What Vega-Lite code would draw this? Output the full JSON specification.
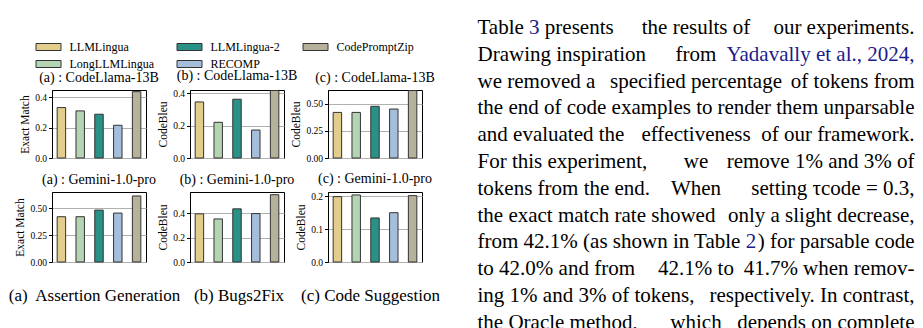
{
  "$schema": "https://vega.github.io/schema/vega-lite/v6.json",
  "padding": {"left": 7, "top": 17, "right": 0, "bottom": 0},
  "background": "white",
  "datasets": {
    "bars": [
      {"panel": "A1", "method": "LLMLingua", "value": 0.333},
      {"panel": "A1", "method": "LongLLMLingua", "value": 0.311},
      {"panel": "A1", "method": "LLMLingua-2", "value": 0.289},
      {"panel": "A1", "method": "RECOMP", "value": 0.216},
      {"panel": "A1", "method": "CodePromptZip", "value": 0.438},
      {"panel": "B1", "method": "LLMLingua", "value": 0.347},
      {"panel": "B1", "method": "LongLLMLingua", "value": 0.221},
      {"panel": "B1", "method": "LLMLingua-2", "value": 0.364},
      {"panel": "B1", "method": "RECOMP", "value": 0.173},
      {"panel": "B1", "method": "CodePromptZip", "value": 0.418},
      {"panel": "C1", "method": "LLMLingua", "value": 0.419},
      {"panel": "C1", "method": "LongLLMLingua", "value": 0.419},
      {"panel": "C1", "method": "LLMLingua-2", "value": 0.475},
      {"panel": "C1", "method": "RECOMP", "value": 0.45},
      {"panel": "C1", "method": "CodePromptZip", "value": 0.62},
      {"panel": "A2", "method": "LLMLingua", "value": 0.423},
      {"panel": "A2", "method": "LongLLMLingua", "value": 0.423},
      {"panel": "A2", "method": "LLMLingua-2", "value": 0.485},
      {"panel": "A2", "method": "RECOMP", "value": 0.457},
      {"panel": "A2", "method": "CodePromptZip", "value": 0.617},
      {"panel": "B2", "method": "LLMLingua", "value": 0.395},
      {"panel": "B2", "method": "LongLLMLingua", "value": 0.353},
      {"panel": "B2", "method": "LLMLingua-2", "value": 0.436},
      {"panel": "B2", "method": "RECOMP", "value": 0.397},
      {"panel": "B2", "method": "CodePromptZip", "value": 0.552},
      {"panel": "C2", "method": "LLMLingua", "value": 0.199},
      {"panel": "C2", "method": "LongLLMLingua", "value": 0.204},
      {"panel": "C2", "method": "LLMLingua-2", "value": 0.134},
      {"panel": "C2", "method": "RECOMP", "value": 0.15},
      {"panel": "C2", "method": "CodePromptZip", "value": 0.202}
    ],
    "para": [
      {"line": 0, "side": 0, "tone": "base", "text": "Table 3 presents"},
      {"line": 0, "side": 0.5, "tone": "base", "text": "the results of"},
      {"line": 0, "side": 1, "tone": "base", "text": "our experiments."},
      {"line": 1, "side": 0, "tone": "base", "text": "Drawing inspiration"},
      {"line": 1, "side": 0.5, "tone": "base", "text": "from"},
      {"line": 1, "side": 1, "tone": "link", "text": "Yadavally et al., 2024,"},
      {"line": 2, "side": 0, "tone": "base", "text": "we removed a"},
      {"line": 2, "side": 0.5, "tone": "base", "text": "specified percentage"},
      {"line": 2, "side": 1, "tone": "base", "text": "of tokens from"},
      {"line": 3, "side": 0, "tone": "base", "text": "the end of code examples to"},
      {"line": 3, "side": 1, "tone": "base", "text": "render them unparsable"},
      {"line": 4, "side": 0, "tone": "base", "text": "and evaluated the"},
      {"line": 4, "side": 0.5, "tone": "base", "text": "effectiveness"},
      {"line": 4, "side": 1, "tone": "base", "text": "of our framework."},
      {"line": 5, "side": 0, "tone": "base", "text": "For this experiment,"},
      {"line": 5, "side": 0.5, "tone": "base", "text": "we"},
      {"line": 5, "side": 1, "tone": "base", "text": "remove 1% and 3% of"},
      {"line": 6, "side": 0, "tone": "base", "text": "tokens from the end."},
      {"line": 6, "side": 0.5, "tone": "base", "text": "When"},
      {"line": 6, "side": 1, "tone": "base", "text": "setting τcode = 0.3,"},
      {"line": 7, "side": 0, "tone": "base", "text": "the exact match rate showed"},
      {"line": 7, "side": 1, "tone": "base", "text": "only a slight decrease,"},
      {"line": 8, "side": 1, "tone": "base", "text": ") for parsable code"},
      {"line": 9, "side": 0, "tone": "base", "text": "to 42.0% and from"},
      {"line": 9, "side": 0.5, "tone": "base", "text": "42.1% to"},
      {"line": 9, "side": 1, "tone": "base", "text": "41.7% when remov-"},
      {"line": 10, "side": 0, "tone": "base", "text": "ing 1% and 3% of tokens,"},
      {"line": 10, "side": 1, "tone": "base", "text": "respectively. In contrast,"},
      {"line": 11, "side": 0, "tone": "base", "text": "the Oracle method,"},
      {"line": 11, "side": 0.5, "tone": "base", "text": "which"},
      {"line": 11, "side": 1, "tone": "base", "text": "depends on complete"},
      {"line": 0, "side": 0, "tone": "blue", "text": "Table 3"},
      {"line": 8, "side": 0, "tone": "blue", "text": "from 42.1% (as shown in Table 2"},
      {"line": 0, "side": 0, "tone": "mask", "text": "Table"},
      {"line": 8, "side": 0, "tone": "mask", "text": "from 42.1% (as shown in Table"}
    ]
  },
  "config": {
    "font": "Liberation Serif",
    "view": {"stroke": "black", "strokeWidth": 1},
    "title": {"font": "Liberation Serif", "fontSize": 14, "fontWeight": "normal", "color": "black", "offset": 5},
    "axis": {
      "labelFont": "Liberation Serif", "titleFont": "Liberation Serif",
      "labelColor": "black", "titleColor": "black", "tickColor": "black", "domainColor": "black",
      "labelFontSize": 9.5, "titleFontSize": 11.5, "titleFontWeight": "normal",
      "tickSize": 3.5, "labelPadding": 2, "titlePadding": 4, "gridColor": "#b0b0b0", "gridWidth": 1
    },
    "legend": {
      "orient": "none", "legendX": -9.5, "legendY": -49, "columns": 3, "direction": "horizontal",
      "symbolType": "M-2.5,-0.7H2.5V0.7H-2.5Z", "symbolSize": 100, "symbolStrokeColor": "#333333", "symbolStrokeWidth": 1,
      "symbolOpacity": 1,
      "labelFont": "Liberation Serif", "labelFontSize": 12, "labelColor": "black", "labelOffset": 15,
      "columnPadding": 20, "rowPadding": 5, "padding": 0
    }
  },
  "columns": 4,
  "align": "each",
  "bounds": "flush",
  "spacing": {"row": 34, "column": 44},
  "concat": [
    {
      "width": 94, "height": 68,
      "title": "(a) : CodeLlama-13B",
      "data": {"name": "bars"},
      "transform": [{"filter": "datum.panel == 'A1'"}],
      "mark": {"type": "bar", "stroke": "#333333", "strokeWidth": 1},
      "encoding": {
        "x": {"field": "method", "type": "nominal", "sort": ["LLMLingua", "LongLLMLingua", "LLMLingua-2", "RECOMP", "CodePromptZip"], "scale": {"paddingInner": 0.55, "paddingOuter": 0.275}, "axis": null},
        "y": {"field": "value", "type": "quantitative", "scale": {"domain": [0, 0.449], "nice": false}, "axis": {"title": "Exact Match", "values": [0, 0.2, 0.4], "format": ".1f", "grid": true}},
        "color": {"field": "method", "type": "nominal", "scale": {"domain": ["LLMLingua", "LLMLingua-2", "CodePromptZip", "LongLLMLingua", "RECOMP"], "range": ["#e3cd8c", "#2a9187", "#b6b19a", "#b4d4b4", "#a6bedc"]}, "legend": {"title": null}}
      }
    },
    {
      "width": 94, "height": 68,
      "title": "(b) : CodeLlama-13B",
      "data": {"name": "bars"},
      "transform": [{"filter": "datum.panel == 'B1'"}],
      "mark": {"type": "bar", "stroke": "#333333", "strokeWidth": 1},
      "encoding": {
        "x": {"field": "method", "type": "nominal", "sort": ["LLMLingua", "LongLLMLingua", "LLMLingua-2", "RECOMP", "CodePromptZip"], "scale": {"paddingInner": 0.55, "paddingOuter": 0.275}, "axis": null},
        "y": {"field": "value", "type": "quantitative", "scale": {"domain": [0, 0.421], "nice": false}, "axis": {"title": "CodeBleu", "values": [0, 0.2, 0.4], "format": ".1f", "grid": true}},
        "color": {"field": "method", "type": "nominal", "scale": {"domain": ["LLMLingua", "LLMLingua-2", "CodePromptZip", "LongLLMLingua", "RECOMP"], "range": ["#e3cd8c", "#2a9187", "#b6b19a", "#b4d4b4", "#a6bedc"]}, "legend": {"title": null}}
      }
    },
    {
      "width": 94, "height": 68,
      "title": "(c) : CodeLlama-13B",
      "data": {"name": "bars"},
      "transform": [{"filter": "datum.panel == 'C1'"}],
      "mark": {"type": "bar", "stroke": "#333333", "strokeWidth": 1},
      "encoding": {
        "x": {"field": "method", "type": "nominal", "sort": ["LLMLingua", "LongLLMLingua", "LLMLingua-2", "RECOMP", "CodePromptZip"], "scale": {"paddingInner": 0.55, "paddingOuter": 0.275}, "axis": null},
        "y": {"field": "value", "type": "quantitative", "scale": {"domain": [0, 0.625], "nice": false}, "axis": {"title": "CodeBleu", "values": [0, 0.25, 0.5], "format": ".2f", "grid": true}},
        "color": {"field": "method", "type": "nominal", "scale": {"domain": ["LLMLingua", "LLMLingua-2", "CodePromptZip", "LongLLMLingua", "RECOMP"], "range": ["#e3cd8c", "#2a9187", "#b6b19a", "#b4d4b4", "#a6bedc"]}, "legend": {"title": null}}
      }
    },
    {
      "width": 448.5, "height": 68,
      "view": {"stroke": null},
      "data": {"name": "para"},
      "encoding": {
        "x": {"field": "side", "type": "quantitative", "scale": {"domain": [-0.026316, 1], "nice": false, "zero": false}, "axis": null},
        "y": {"field": "line", "type": "quantitative", "scale": {"domain": [2.313, 4.85], "nice": false, "zero": false, "reverse": true}, "axis": null},
        "text": {"field": "text"}
      },
      "layer": [
        {"transform": [{"filter": "datum.side == 0 && datum.tone == 'base'"}], "mark": {"type": "text", "align": "left", "baseline": "middle", "font": "Liberation Serif", "fontSize": 21, "color": "black"}},
        {"transform": [{"filter": "datum.side == 0.5 && datum.tone == 'base'"}], "mark": {"type": "text", "align": "center", "baseline": "middle", "font": "Liberation Serif", "fontSize": 21, "color": "black"}},
        {"transform": [{"filter": "datum.side == 1 && datum.tone == 'base'"}], "mark": {"type": "text", "align": "right", "baseline": "middle", "font": "Liberation Serif", "fontSize": 21, "color": "black"}},
        {"transform": [{"filter": "datum.side == 1 && datum.tone == 'link'"}], "mark": {"type": "text", "align": "right", "baseline": "middle", "font": "Liberation Serif", "fontSize": 21, "color": "#1c1c8a"}},
        {"transform": [{"filter": "datum.tone == 'blue'"}], "mark": {"type": "text", "align": "left", "baseline": "middle", "font": "Liberation Serif", "fontSize": 21, "fill": "white", "stroke": "white", "strokeWidth": 1.2}},
        {"transform": [{"filter": "datum.tone == 'blue'"}], "mark": {"type": "text", "align": "left", "baseline": "middle", "font": "Liberation Serif", "fontSize": 21, "color": "#1c1c8a"}},
        {"transform": [{"filter": "datum.tone == 'mask'"}], "mark": {"type": "text", "align": "left", "baseline": "middle", "font": "Liberation Serif", "fontSize": 21, "fill": "white", "stroke": "white", "strokeWidth": 1.2}},
        {"transform": [{"filter": "datum.tone == 'mask'"}], "mark": {"type": "text", "align": "left", "baseline": "middle", "font": "Liberation Serif", "fontSize": 21, "color": "black"}}
      ]
    },
    {
      "width": 94, "height": 70,
      "title": "(a) : Gemini-1.0-pro",
      "data": {"name": "bars"},
      "transform": [{"filter": "datum.panel == 'A2'"}],
      "mark": {"type": "bar", "stroke": "#333333", "strokeWidth": 1},
      "encoding": {
        "x": {"field": "method", "type": "nominal", "sort": ["LLMLingua", "LongLLMLingua", "LLMLingua-2", "RECOMP", "CodePromptZip"], "scale": {"paddingInner": 0.55, "paddingOuter": 0.275}, "axis": {"title": "(a)\u00a0 Assertion Generation", "labels": false, "ticks": false, "domain": false, "titleFontSize": 17, "titlePadding": 25, "titleX": 42}},
        "y": {"field": "value", "type": "quantitative", "scale": {"domain": [0, 0.654], "nice": false}, "axis": {"title": "Exact Match", "values": [0, 0.25, 0.5], "format": ".2f", "grid": true}},
        "color": {"field": "method", "type": "nominal", "scale": {"domain": ["LLMLingua", "LLMLingua-2", "CodePromptZip", "LongLLMLingua", "RECOMP"], "range": ["#e3cd8c", "#2a9187", "#b6b19a", "#b4d4b4", "#a6bedc"]}, "legend": {"title": null}}
      }
    },
    {
      "width": 94, "height": 70,
      "title": "(b) : Gemini-1.0-pro",
      "data": {"name": "bars"},
      "transform": [{"filter": "datum.panel == 'B2'"}],
      "mark": {"type": "bar", "stroke": "#333333", "strokeWidth": 1},
      "encoding": {
        "x": {"field": "method", "type": "nominal", "sort": ["LLMLingua", "LongLLMLingua", "LLMLingua-2", "RECOMP", "CodePromptZip"], "scale": {"paddingInner": 0.55, "paddingOuter": 0.275}, "axis": {"title": "(b) Bugs2Fix", "labels": false, "ticks": false, "domain": false, "titleFontSize": 17, "titlePadding": 25, "titleX": 48.5}},
        "y": {"field": "value", "type": "quantitative", "scale": {"domain": [0, 0.574], "nice": false}, "axis": {"title": "CodeBleu", "values": [0, 0.2, 0.4], "format": ".1f", "grid": true}},
        "color": {"field": "method", "type": "nominal", "scale": {"domain": ["LLMLingua", "LLMLingua-2", "CodePromptZip", "LongLLMLingua", "RECOMP"], "range": ["#e3cd8c", "#2a9187", "#b6b19a", "#b4d4b4", "#a6bedc"]}, "legend": {"title": null}}
      }
    },
    {
      "width": 94, "height": 70,
      "title": "(c) : Gemini-1.0-pro",
      "data": {"name": "bars"},
      "transform": [{"filter": "datum.panel == 'C2'"}],
      "mark": {"type": "bar", "stroke": "#333333", "strokeWidth": 1},
      "encoding": {
        "x": {"field": "method", "type": "nominal", "sort": ["LLMLingua", "LongLLMLingua", "LLMLingua-2", "RECOMP", "CodePromptZip"], "scale": {"paddingInner": 0.55, "paddingOuter": 0.275}, "axis": {"title": "(c) Code Suggestion", "labels": false, "ticks": false, "domain": false, "titleFontSize": 17, "titlePadding": 25, "titleX": 42}},
        "y": {"field": "value", "type": "quantitative", "scale": {"domain": [0, 0.213], "nice": false}, "axis": {"title": "CodeBleu", "values": [0, 0.1, 0.2], "format": ".1f", "grid": true}},
        "color": {"field": "method", "type": "nominal", "scale": {"domain": ["LLMLingua", "LLMLingua-2", "CodePromptZip", "LongLLMLingua", "RECOMP"], "range": ["#e3cd8c", "#2a9187", "#b6b19a", "#b4d4b4", "#a6bedc"]}, "legend": {"title": null}}
      }
    }
  ]
}
